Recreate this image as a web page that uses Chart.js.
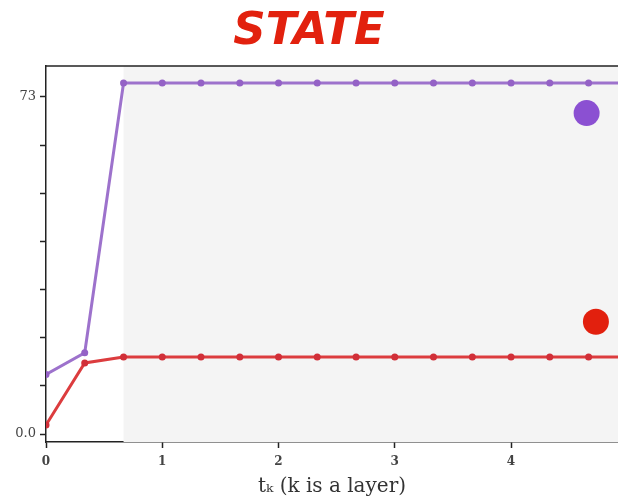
<!DOCTYPE html>
<html>
<head>
<meta charset="utf-8">
<script src="https://cdn.jsdelivr.net/npm/chart.js@4/dist/chart.umd.min.js"></script>
<style>
html,body{margin:0;padding:0;background:#fff;}
#wrap{width:618px;height:496px;}
</style>
</head>
<body>
<div id="wrap"><canvas id="c" width="618" height="496"></canvas></div>
<script>
// ---- data ----
const titleText = "STATE";
const xLabel = "t\u2096 (k is a layer)";
const layerT = [0, 0.333, 0.667, 1.0, 1.333, 1.667, 2.0, 2.333, 2.667, 3.0, 3.333, 3.667, 4.0, 4.333, 4.667, 5.0];
const purpleValues = [12.9, 17.6, 76.0, 76.0, 76.0, 76.0, 76.0, 76.0, 76.0, 76.0, 76.0, 76.0, 76.0, 76.0, 76.0, 76.0];
const redValues = [1.95, 15.4, 16.7, 16.7, 16.7, 16.7, 16.7, 16.7, 16.7, 16.7, 16.7, 16.7, 16.7, 16.7, 16.7, 16.7];
const purpleMarker = [{x: 4.65, y: 69.5}];
const redMarker = [{x: 4.73, y: 24.3}];
const shadeStart = 0.667;
const xTickValues = [0, 1, 2, 3, 4];
const yTickValues = [0, 10.43, 20.86, 31.29, 41.71, 52.14, 62.57, 73];
const yTickLabels = {0: "0.0", 73: "73"};

function pts(xs, ys){ return xs.map((x,i)=>({x:x, y:ys[i]})); }

const shadePlugin = {
  id: 'shade',
  beforeDatasetsDraw(chart){
    const {ctx, chartArea, scales} = chart;
    const x0 = scales.x.getPixelForValue(shadeStart);
    ctx.save();
    ctx.fillStyle = '#f4f4f4';
    ctx.fillRect(x0, chartArea.top, chartArea.right - x0, chartArea.bottom - chartArea.top);
    ctx.restore();
  },
  afterDraw(chart){
    const {ctx, chartArea} = chart;
    ctx.save();
    ctx.strokeStyle = '#222';
    ctx.lineWidth = 1.5;
    ctx.beginPath();
    ctx.moveTo(chartArea.left, chartArea.top);
    ctx.lineTo(chartArea.right, chartArea.top);
    ctx.stroke();
    ctx.restore();
  }
};

new Chart(document.getElementById('c'), {
  type: 'line',
  data: {
    datasets: [
      {data: pts(layerT, purpleValues), borderColor: '#9d72cc', backgroundColor: '#9462c6', borderWidth: 3, pointRadius: 3.5, pointBorderWidth: 0, tension: 0},
      {data: pts(layerT, redValues), borderColor: '#dc3c3e', backgroundColor: '#d12f38', borderWidth: 3, pointRadius: 3.5, pointBorderWidth: 0, tension: 0},
      {type: 'scatter', data: purpleMarker, backgroundColor: '#8b50d2', borderWidth: 0, pointRadius: 13, clip: false},
      {type: 'scatter', data: redMarker, backgroundColor: '#e2200e', borderWidth: 0, pointRadius: 13, clip: false}
    ]
  },
  options: {
    responsive: false,
    animation: false,
    layout: {autoPadding: false, padding: {left: 0, right: 0, top: 0, bottom: 0}},
    plugins: {
      legend: {display: false},
      tooltip: {enabled: false},
      title: {
        display: true,
        text: titleText,
        color: '#e2210e',
        font: {family: 'DejaVu Sans', size: 45, weight: 'bold', style: 'italic', lineHeight: 1.1},
        padding: {top: 8, bottom: 8.5}
      }
    },
    scales: {
      x: {
        type: 'linear',
        min: 0, max: 4.92,
        afterBuildTicks(s){ s.ticks = xTickValues.map(v=>({value:v})); },
        afterFit(s){ s.height = 54; },
        ticks: {color: '#444', font: {family: 'DejaVu Serif', size: 12, weight: 'bold'}, padding: 7, maxRotation: 0,
                callback: v => String(v)},
        grid: {drawOnChartArea: false, drawTicks: true, tickLength: 6, color: '#222', tickWidth: 1.5},
        border: {display: true, color: '#222', width: 1.5},
        title: {display: true, text: xLabel, color: '#333', font: {family: 'DejaVu Serif', size: 20}, padding: {top: 0, bottom: -3}}
      },
      y: {
        type: 'linear',
        min: -1.73, max: 79.7,
        afterBuildTicks(s){ s.ticks = yTickValues.map(v=>({value:v})); },
        afterFit(s){ s.width = 46; },
        ticks: {color: '#444', font: {family: 'DejaVu Serif', size: 13}, padding: 4,
                callback: v => (yTickLabels[v] !== undefined ? yTickLabels[v] : '')},
        grid: {drawOnChartArea: false, drawTicks: true, tickLength: 6, color: '#222', tickWidth: 1.5},
        border: {display: true, color: '#222', width: 1.5}
      }
    }
  },
  plugins: [shadePlugin]
});
</script>
</body>
</html>
